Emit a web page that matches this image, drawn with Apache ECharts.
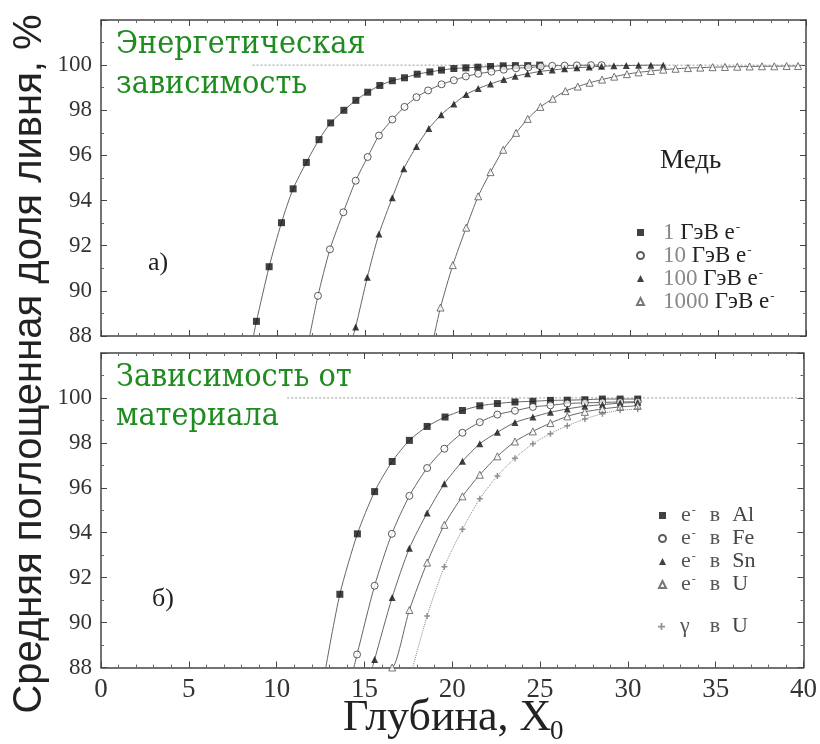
<!DOCTYPE html>
<html><head><meta charset="utf-8">
<script src="https://cdn.jsdelivr.net/npm/echarts@6/dist/echarts.min.js"></script>
<style>html,body{margin:0;padding:0;background:#fff}#c{width:820px;height:744px}</style>
</head><body><div id="c"></div>
<script>
// ---------- data ----------
// Panel a) copper, energy dependence
const cu1x = [8.82, 9.54, 10.24, 10.90, 11.65, 12.37, 13.03, 13.78, 14.46, 15.13, 15.82, 16.53, 17.22, 17.94, 18.66, 19.32, 20.02, 20.70, 21.38, 22.10, 22.82, 23.51, 24.21, 24.89];
const cu1y = [88.65, 91.07, 93.02, 94.52, 95.69, 96.70, 97.44, 98.00, 98.44, 98.80, 99.10, 99.31, 99.44, 99.60, 99.70, 99.78, 99.85, 99.88, 99.91, 99.94, 99.97, 99.98, 99.98, 100.0];
const cu10x = [12.31, 12.99, 13.75, 14.45, 15.13, 15.77, 16.53, 17.22, 17.90, 18.56, 19.32, 20.02, 20.70, 21.40, 22.15, 22.85, 23.55, 24.25, 24.95, 25.60, 26.30, 27.00, 27.80, 28.40];
const cu10y = [89.78, 91.84, 93.48, 94.88, 95.93, 96.88, 97.59, 98.15, 98.58, 98.88, 99.15, 99.33, 99.50, 99.62, 99.71, 99.80, 99.86, 99.90, 99.94, 99.97, 99.98, 99.99, 100.0, 100.0];
const cu100x = [14.45, 15.11, 15.77, 16.53, 17.18, 17.90, 18.60, 19.30, 20.02, 20.72, 21.40, 22.10, 22.85, 23.50, 24.20, 24.90, 25.60, 26.30, 27.00, 27.70, 28.40, 29.10, 29.80, 30.50, 31.20, 31.90];
const cu100y = [88.40, 90.60, 92.52, 94.13, 95.41, 96.40, 97.19, 97.80, 98.28, 98.70, 98.96, 99.17, 99.36, 99.51, 99.62, 99.72, 99.78, 99.84, 99.88, 99.92, 99.95, 99.97, 99.98, 99.99, 100.0, 100.0];
const cu1000x = [19.26, 19.96, 20.72, 21.40, 22.10, 22.82, 23.55, 24.21, 24.93, 25.63, 26.35, 27.05, 27.72, 28.43, 29.12, 29.84, 30.50, 31.20, 31.90, 32.60, 33.30, 34.00, 34.70, 35.40, 36.10, 36.80, 37.50, 38.20, 38.90, 39.55];
const cu1000y = [89.26, 91.14, 92.80, 94.19, 95.26, 96.25, 97.00, 97.62, 98.15, 98.51, 98.85, 99.05, 99.22, 99.36, 99.49, 99.60, 99.68, 99.74, 99.80, 99.84, 99.87, 99.89, 99.91, 99.92, 99.93, 99.94, 99.95, 99.95, 99.96, 99.96];
const cuCurveStart = [8.65, 11.84, 14.30, 18.90];   // depth where each fitted curve leaves the 88 % floor
const cuNames = ['1 ГэВ', '10 ГэВ', '100 ГэВ', '1000 ГэВ'];
const cuRef = [8.6, 40];                              // dotted 100 % line extent

// Panel б) material dependence
const alX = [13.60, 14.60, 15.58, 16.58, 17.56, 18.57, 19.59, 20.58, 21.57, 22.57, 23.57, 24.59, 25.59, 26.55, 27.55, 28.55, 29.56, 30.56];
const alY = [91.26, 93.95, 95.83, 97.17, 98.11, 98.73, 99.15, 99.44, 99.65, 99.75, 99.82, 99.85, 99.89, 99.90, 99.92, 99.95, 99.95, 99.95];
const feX = [14.58, 15.58, 16.56, 17.56, 18.57, 19.55, 20.58, 21.57, 22.57, 23.57, 24.59, 25.59, 26.55, 27.55, 28.55, 29.56, 30.56];
const feY = [88.58, 91.64, 93.95, 95.64, 96.88, 97.74, 98.45, 98.92, 99.26, 99.43, 99.60, 99.67, 99.75, 99.78, 99.80, 99.82, 99.83];
const snX = [15.58, 16.58, 17.56, 18.57, 19.55, 20.58, 21.57, 22.57, 23.57, 24.59, 25.59, 26.55, 27.55, 28.55, 29.56, 30.56];
const snY = [88.36, 91.12, 93.31, 94.88, 96.18, 97.18, 97.96, 98.47, 98.91, 99.15, 99.36, 99.51, 99.63, 99.70, 99.77, 99.80];
const uX = [16.58, 17.56, 18.57, 19.55, 20.58, 21.57, 22.57, 23.57, 24.59, 25.59, 26.55, 27.55, 28.55, 29.56, 30.56];
const uY = [88.00, 90.56, 92.67, 94.35, 95.62, 96.58, 97.40, 98.06, 98.51, 98.88, 99.18, 99.38, 99.51, 99.60, 99.65];
const gX = [18.57, 19.55, 20.58, 21.57, 22.57, 23.57, 24.59, 25.59, 26.55, 27.55, 28.55, 29.56, 30.56];
const gY = [90.29, 92.49, 94.15, 95.51, 96.53, 97.32, 97.96, 98.41, 98.76, 99.06, 99.30, 99.45, 99.50];
const matCurveStart = [12.80, 14.40, 15.45, 16.50, 17.75];
const matNames = ['Al', 'Fe', 'Sn', 'U', 'γU'];
const matRef = [10.6, 40];

const xTicks = [0, 5, 10, 15, 20, 25, 30, 35, 40];
const yTicks = [88, 90, 92, 94, 96, 98, 100];

// ---------- helpers ----------
const zip = (xs, ys) => xs.map((x, i) => [x, ys[i]]);
const FLOOR = yTicks[0];
const PLUS = 'path://M3,0H5V3H8V5H5V8H3V5H0V3H3Z';

const markerStyles = {
  filledSquare: {symbol: 'rect', symbolSize: 7, itemStyle: {color: '#111', borderColor: '#111', borderWidth: 0}},
  openCircle: {symbol: 'circle', symbolSize: 7, itemStyle: {color: '#fff', borderColor: '#333', borderWidth: 1}},
  filledTri: {symbol: 'triangle', symbolSize: 7, itemStyle: {color: '#111', borderColor: '#111', borderWidth: 0}},
  openTri: {symbol: 'triangle', symbolSize: 7, itemStyle: {color: '#fff', borderColor: '#555', borderWidth: 1}},
  plus: {symbol: PLUS, symbolSize: 6, itemStyle: {color: '#777', borderWidth: 0}}
};

function curve(name, xs, ys, start, xi, yi, dotted) {
  return {
    type: 'line', name: name + '_fit', xAxisIndex: xi, yAxisIndex: yi,
    data: [[start, FLOOR]].concat(zip(xs, ys)),
    showSymbol: false, symbol: 'none', smooth: 0.25, clip: true, silent: true,
    lineStyle: {color: dotted ? '#888' : '#666', width: 1, type: dotted ? 'dotted' : 'solid'},
    z: 2
  };
}
function marks(name, xs, ys, st, xi, yi) {
  return Object.assign({
    type: 'scatter', name: name, xAxisIndex: xi, yAxisIndex: yi,
    data: zip(xs, ys), z: 3, silent: true
  }, JSON.parse(JSON.stringify(st)));
}
function refLine(r, xi, yi) {
  return {
    type: 'line', name: 'ref' + xi, xAxisIndex: xi, yAxisIndex: yi,
    data: [[r[0], 100], [r[1], 100]], showSymbol: false, symbol: 'none', silent: true,
    lineStyle: {color: '#999', width: 1, type: [2, 2]}, z: 1
  };
}

const SERIF = 'Liberation Serif';
const GREEN = '#1f8c1f';
const AXC = '#444';
function xAx(gi, pos, labels) {
  return {
    type: 'value', gridIndex: gi, position: pos, min: xTicks[0], max: xTicks[xTicks.length - 1], interval: 5,
    axisLine: {show: true, onZero: false, lineStyle: {color: AXC, width: 1.5}},
    axisTick: {show: true, inside: true, length: 6, lineStyle: {color: AXC}},
    minorTick: {show: true, splitNumber: 5, length: 3, lineStyle: {color: '#666'}},
    splitLine: {show: false},
    axisLabel: {show: labels, margin: 9, color: '#333', fontSize: 27, fontFamily: SERIF}
  };
}
function yAx(gi, pos, labels) {
  return {
    type: 'value', gridIndex: gi, position: pos, min: 88, max: 102, interval: 2,
    axisLine: {show: true, onZero: false, lineStyle: {color: AXC, width: 1.5}},
    axisTick: {show: true, inside: true, length: 6, lineStyle: {color: AXC}},
    minorTick: {show: true, splitNumber: 2, length: 3, lineStyle: {color: '#666'}},
    splitLine: {show: false},
    axisLabel: {show: labels, margin: 9, color: '#333', fontSize: 23, fontFamily: SERIF,
      formatter: v => (yTicks.indexOf(v) >= 0 ? String(v) : '')}
  };
}

const topStyles = [markerStyles.filledSquare, markerStyles.openCircle, markerStyles.filledTri, markerStyles.openTri];
const matStyles = [markerStyles.filledSquare, markerStyles.openCircle, markerStyles.filledTri, markerStyles.openTri, markerStyles.plus];
const cuData = [[cu1x, cu1y], [cu10x, cu10y], [cu100x, cu100y], [cu1000x, cu1000y]];
const matData = [[alX, alY], [feX, feY], [snX, snY], [uX, uY], [gX, gY]];

const series = [refLine(cuRef, 0, 0), refLine(matRef, 2, 2)];
cuData.forEach((d, i) => {
  series.push(curve(cuNames[i], d[0], d[1], cuCurveStart[i], 0, 0, false));
  series.push(marks(cuNames[i], d[0], d[1], topStyles[i], 0, 0));
});
matData.forEach((d, i) => {
  series.push(curve(matNames[i], d[0], d[1], matCurveStart[i], 2, 2, i === 4));
  series.push(marks(matNames[i], d[0], d[1], matStyles[i], 2, 2));
});

const GFONT = '32px "DejaVu Serif", "Liberation Serif", serif';
const SFONT = s => s + 'px "Liberation Serif", serif';
const green = (txt, x, y) => ({type: 'text', x: x, y: y, scaleX: 0.9, z: 10,
  style: {text: txt, font: GFONT, fill: GREEN, textAlign: 'left', textVerticalAlign: 'top'}});

const option = {
  backgroundColor: '#fff',
  animation: false,
  textStyle: {fontFamily: SERIF},
  grid: [
    {left: 101, right: 14, top: 20, height: 316},
    {left: 101, right: 14, top: 353, height: 314.5}
  ],
  xAxis: [xAx(0, 'bottom', false), xAx(0, 'top', false), xAx(1, 'bottom', true), xAx(1, 'top', false)],
  yAxis: [yAx(0, 'left', true), yAx(0, 'right', false), yAx(1, 'left', true), yAx(1, 'right', false)],
  legend: [
    {
      data: cuNames, orient: 'vertical', left: 631, top: 216, itemWidth: 7, itemHeight: 7, itemGap: 0,
      selectedMode: false,
      formatter: n => '{p| }{n|' + n.split(' ')[0] + '} {t|ГэВ}{t| e}{s|-}',
      textStyle: {fontFamily: SERIF, fontSize: 23, lineHeight: 21, color: '#222',
        rich: {
          p: {width: 14},
          n: {fontFamily: SERIF, fontSize: 23, color: '#888', lineHeight: 21},
          t: {fontFamily: SERIF, fontSize: 23, color: '#222', lineHeight: 21},
          s: {fontFamily: SERIF, fontSize: 13, color: '#333', padding: [0, 0, 9, 1], lineHeight: 21}
        }}
    },
    {
      data: matNames.slice(0, 4), orient: 'vertical', left: 653, top: 499, itemWidth: 7, itemHeight: 7, itemGap: 0,
      selectedMode: false,
      formatter: n => '{p| }{e|e}{s|-}{g| }{b|в}{g2| }{m|' + n + '}',
      textStyle: {fontFamily: SERIF, fontSize: 21, lineHeight: 23, color: '#444',
        rich: {
          p: {width: 10},
          e: {fontFamily: SERIF, fontSize: 22, color: '#555', lineHeight: 23},
          s: {fontFamily: SERIF, fontSize: 12, color: '#555', padding: [0, 0, 9, 1], lineHeight: 23},
          g: {width: 14},
          b: {fontFamily: SERIF, fontSize: 22, color: '#555', lineHeight: 23},
          g2: {width: 12},
          m: {fontFamily: SERIF, fontSize: 22, color: '#444', lineHeight: 23}
        }}
    },
    {
      data: ['γU'], orient: 'vertical', left: 653, top: 610, itemWidth: 7, itemHeight: 7, itemGap: 0,
      selectedMode: false,
      formatter: () => '{p| }{e|γ}{g| }{b|в}{g2| }{m|U}',
      textStyle: {fontFamily: SERIF, fontSize: 21, lineHeight: 23, color: '#444',
        rich: {
          p: {width: 10},
          e: {fontFamily: SERIF, fontSize: 22, color: '#555', lineHeight: 23},
          g: {width: 20},
          b: {fontFamily: SERIF, fontSize: 22, color: '#555', lineHeight: 23},
          g2: {width: 12},
          m: {fontFamily: SERIF, fontSize: 22, color: '#444', lineHeight: 23}
        }}
    }
  ],
  graphic: [
    green('Энергетическая', 116, 29),
    green('зависимость', 116, 69),
    green('Зависимость от', 116, 362),
    green('материала', 116, 401),
    {type: 'text', left: 660, top: 147, style: {text: 'Медь', font: SFONT(27), fill: '#222'}},
    {type: 'text', left: 148, top: 250, style: {text: 'а)', font: SFONT(26), fill: '#222'}},
    {type: 'text', left: 152, top: 586, style: {text: 'б)', font: SFONT(26), fill: '#222'}},
    {type: 'text', left: 343, top: 696, style: {text: 'Глубина, X', font: SFONT(44), fill: '#222'}},
    {type: 'text', left: 550, top: 718, style: {text: '0', font: SFONT(27), fill: '#222'}},
    {type: 'text', x: 30, y: 364, rotation: Math.PI / 2,
      style: {text: 'Средняя поглощенная доля ливня, %', font: '40px "Liberation Sans", sans-serif', fill: '#222',
        textAlign: 'center', textVerticalAlign: 'middle'}}
  ],
  series: series
};

const chart = echarts.init(document.getElementById('c'), null, {renderer: 'canvas'});
chart.setOption(option);
</script>
</body></html>
